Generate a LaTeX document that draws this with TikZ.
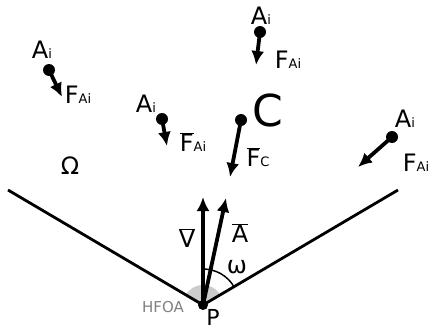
\documentclass[tikz,border=0pt]{standalone}
\usepackage{fontspec}
\setmainfont{DejaVu Sans}
\usetikzlibrary{arrows.meta}
\newcommand{\ovl}[1]{$\overline{\mbox{#1}}$}
\newcommand{\sml}[1]{{\fontsize{13}{13}\selectfont #1}}

\begin{document}
\begin{tikzpicture}[x=1pt, y=1pt,
		force/.style={line width=3.8pt, -{Latex[length=14pt, width=13pt]}},
		dot/.style={circle, fill=black, inner sep=0pt, minimum size=12pt},
		lbl/.style={font=\fontsize{24}{24}\selectfont, inner sep=0pt}]
			\useasboundingbox (0, 0) rectangle (430, 327);
			% field of action
			\coordinate (P) at (203, 22);
			\coordinate (L) at (8, 137);
			\coordinate (R) at (398, 137);
			\fill[gray!40] (P) -- ++(30.5:20) arc (30.5:149.5:20) -- cycle;
			\draw[line width=2.8pt] (L) -- (P) -- (R);
			\node[circle, fill=black, inner sep=0pt, minimum size=10pt](Pd) at (P){};
			\node[font=\fontsize{15}{15}\selectfont, text=gray, inner sep=0pt](HF) at (163, 20){HFOA};
			\node[lbl, font=\fontsize{22}{22}\selectfont, anchor=south](Pl) at (213, 1){P};
			\node[lbl](Om) at (70, 161){Ω};
			% V and A
			\coordinate (Vt) at (203, 130);
			\coordinate (At) at (226, 129);
			\draw[force] (P) -- (Vt);
			\draw[force] (P) -- (At);
			\node[lbl](Vl) at (187, 89){\ovl{V}};
			\node[lbl](Al) at (240, 94){\ovl{A}};
			\draw[line width=1.5pt] (P) ++(90:36) arc (90:30.5:36);
			\node[lbl](wl) at (237, 60){ω};
			% centroid
			\node[dot](C) at (241, 207){};
			\node[font=\fontsize{44}{44}\selectfont, inner sep=0pt](Cl) at (268, 217){C};
			\coordinate (Ct) at (230, 150);
			\draw[force] (C.center) -- (Ct);
			\node[lbl](FC) at (258, 170){\ovl{F}\sml{C}};
			% points A_i
			\node[dot](A1) at (49, 257){};
			\coordinate (T1) at (62, 230);
			\draw[force] (A1.center) -- (T1);
			\node[lbl](A1l) at (42, 277){A\sml{i}};
			\node[lbl](F1) at (78, 232){F\sml{Ai}};
			\node[dot](A2) at (162, 208){};
			\coordinate (T2) at (167, 181);
			\draw[force] (A2.center) -- (T2);
			\node[lbl](A2l) at (146, 223){A\sml{i}};
			\node[lbl](F2) at (193, 185){\ovl{F}\sml{Ai}};
			\node[dot](A3) at (260, 295){};
			\coordinate (T3) at (256, 262);
			\draw[force] (A3.center) -- (T3);
			\node[lbl](A3l) at (261, 311){A\sml{i}};
			\node[lbl](F3) at (288, 267){F\sml{Ai}};
			\node[dot](A4) at (392, 190){};
			\coordinate (T4) at (358, 160);
			\draw[force] (A4.center) -- (T4);
			\node[lbl](A4l) at (405, 208){A\sml{i}};
			\node[lbl](F4) at (416, 164){F\sml{Ai}};
		\end{tikzpicture}
\end{document}
